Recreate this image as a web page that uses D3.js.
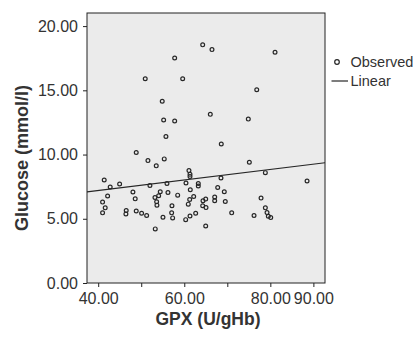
<!DOCTYPE html>
<html>
<head>
<meta charset="utf-8">
<script src="https://cdn.jsdelivr.net/npm/d3@7"></script>
<style>
  html, body { margin: 0; padding: 0; background: #ffffff; }
  svg { display: block; }
  text { font-family: "Liberation Sans", Arial, sans-serif; fill: #333333; }
</style>
</head>
<body>
<svg id="chart" width="420" height="339"></svg>
<script>
// GPX (U/gHb) against fasting glucose (mmol/l), one point per subject
const gpx = [64.28, 66.44, 57.77, 81.09, 50.93, 59.63, 76.84, 54.88, 66.05, 55.21,
             57.77, 74.88, 55.74, 68.60, 48.84, 51.56, 53.49, 55.35, 75.12, 78.84,
             61.09, 61.33, 61.33, 41.40, 68.53, 88.53, 44.98, 42.79, 52.02, 55.98,
             60.40, 63.26, 63.26, 67.77, 61.40, 48.07, 54.42, 56.21, 69.30, 42.19,
             54.05, 58.47, 53.19, 62.19, 67.07, 48.60, 61.26, 64.98, 64.35, 67.07,
             77.84, 41.02, 53.58, 69.53, 60.93, 53.65, 64.28, 41.63, 57.14, 65.05,
             78.84, 46.51, 48.84, 50.09, 41.02, 46.44, 51.26, 57.07, 62.65, 71.02,
             79.23, 76.21, 61.33, 55.05, 57.30, 79.53, 80.09, 60.33, 64.98, 53.26];
const glucose = [18.54, 18.17, 17.52, 17.96, 15.90, 15.90, 15.04, 14.15, 13.13, 12.69,
                 12.61, 12.76, 11.41, 10.82, 10.16, 9.53, 9.12, 9.66, 9.40, 8.59,
                 8.75, 8.46, 8.30, 8.02, 8.18, 7.94, 7.71, 7.47, 7.60, 7.75,
                 7.78, 7.75, 7.55, 7.44, 7.26, 7.08, 7.10, 7.05, 7.10, 6.77,
                 6.79, 6.84, 6.66, 6.73, 6.69, 6.55, 6.50, 6.53, 6.40, 6.40,
                 6.61, 6.30, 6.32, 6.34, 6.14, 6.06, 6.01, 5.85, 6.01, 5.87,
                 5.85, 5.64, 5.61, 5.43, 5.46, 5.38, 5.25, 5.46, 5.43, 5.46,
                 5.48, 5.25, 5.22, 5.12, 5.07, 5.20, 5.09, 4.93, 4.44, 4.21];

// Linear fit line: glucose = intercept + slope * gpx
const fitIntercept = 5.57;
const fitSlope = 0.0409;

// Axis ticks and labels
const xTicks = [40, 50, 60, 70, 80, 90];
const xTickLabels = ["40.00", "", "60.00", "", "80.00", "90.00"];
const yTicks = [0, 5, 10, 15, 20];
const yTickLabels = ["0.00", "5.00", "10.00", "15.00", "20.00"];

const legendLabels = ["Observed", "Linear"];

const svg = d3.select("#chart");
const plot = { left: 87, right: 325, top: 13, bottom: 283 };

const x = d3.scaleLinear().domain([37.4, 92.7]).range([plot.left, plot.right]);
const y = d3.scaleLinear().domain([0, 21.02]).range([plot.bottom, plot.top]);

// Plot background and frame
svg.append("rect")
  .attr("x", plot.left).attr("y", plot.top)
  .attr("width", plot.right - plot.left).attr("height", plot.bottom - plot.top)
  .attr("fill", "#ebebeb");

// Axes
const xAxis = d3.axisBottom(x).tickValues(xTicks).tickSize(4).tickPadding(6)
  .tickFormat((d, i) => xTickLabels[i]);
const gx = svg.append("g").attr("transform", `translate(0,${plot.bottom})`).call(xAxis);
gx.select(".domain").remove();
gx.selectAll("line").attr("stroke", "#222").attr("stroke-width", 1);
gx.selectAll("text").attr("font-size", 16).attr("fill", "#333").attr("font-family", null);

const yAxis = d3.axisLeft(y).tickValues(yTicks).tickSize(4).tickPadding(5)
  .tickFormat((d, i) => yTickLabels[i]);
const gy = svg.append("g").attr("transform", `translate(${plot.left},0)`).call(yAxis);
gy.select(".domain").remove();
gy.selectAll("line").attr("stroke", "#222").attr("stroke-width", 1);
gy.selectAll("text").attr("font-size", 16).attr("fill", "#333").attr("font-family", null);

// Observed points
svg.append("g").selectAll("circle")
  .data(gpx.map((g, i) => [g, glucose[i]]))
  .join("circle")
  .attr("cx", d => x(d[0]))
  .attr("cy", d => y(d[1]))
  .attr("r", 1.9)
  .attr("fill", "none")
  .attr("stroke", "#262626")
  .attr("stroke-width", 1.2);

// Fitted line across the x range
const [x0, x1] = x.domain();
svg.append("line")
  .attr("x1", x(x0)).attr("y1", y(fitIntercept + fitSlope * x0))
  .attr("x2", x(x1)).attr("y2", y(fitIntercept + fitSlope * x1))
  .attr("stroke", "#262626").attr("stroke-width", 1.2);

// Frame
svg.append("rect")
  .attr("x", plot.left).attr("y", plot.top)
  .attr("width", plot.right - plot.left).attr("height", plot.bottom - plot.top)
  .attr("fill", "none").attr("stroke", "#222").attr("stroke-width", 1);

// Axis titles
svg.append("text")
  .attr("x", 208).attr("y", 325)
  .attr("text-anchor", "middle")
  .attr("font-size", 17.5).attr("font-weight", "bold")
  .text("GPX (U/gHb)");

svg.append("text")
  .attr("transform", "translate(28,158) rotate(-90)")
  .attr("text-anchor", "middle")
  .attr("font-size", 18).attr("font-weight", "bold")
  .text("Glucose (mmol/l)");

// Legend
const lg = svg.append("g");
lg.append("circle").attr("cx", 337).attr("cy", 62).attr("r", 2.3)
  .attr("fill", "none").attr("stroke", "#262626").attr("stroke-width", 1.2);
lg.append("text").attr("x", 350.5).attr("y", 66.5).attr("font-size", 14.5).text(legendLabels[0]);
lg.append("line").attr("x1", 331.5).attr("x2", 348).attr("y1", 81).attr("y2", 81)
  .attr("stroke", "#262626").attr("stroke-width", 1.2);
lg.append("text").attr("x", 350.5).attr("y", 86).attr("font-size", 14.5).text(legendLabels[1]);
</script>
</body>
</html>
